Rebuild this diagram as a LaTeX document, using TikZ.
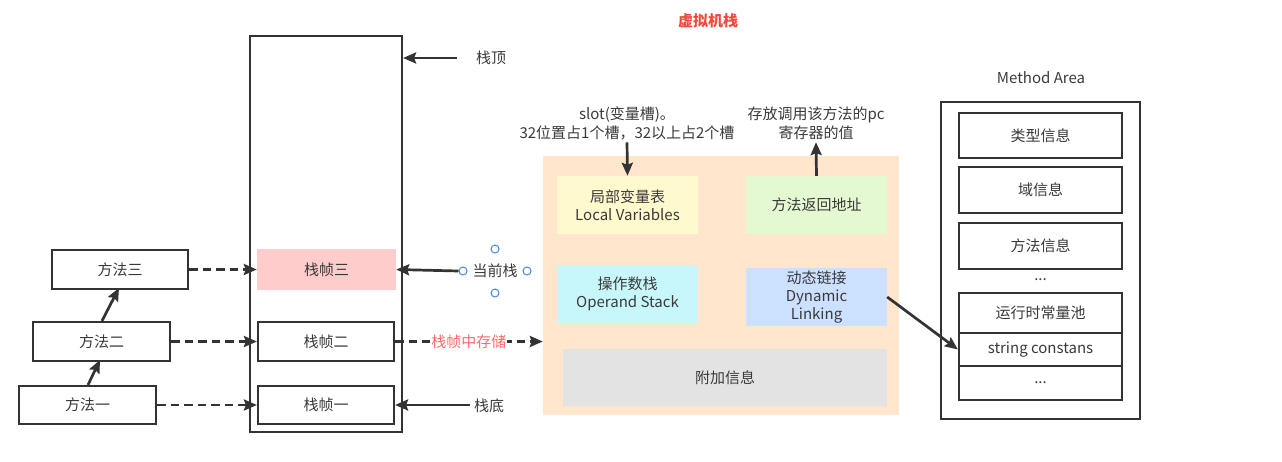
\documentclass[tikz,border=0pt]{standalone}
\usepackage{fontspec}
\setmainfont{Noto Sans CJK SC}
\usetikzlibrary{arrows.meta,calc}
\definecolor{ink}{HTML}{333333}
\definecolor{txt}{HTML}{3A3A3A}
\definecolor{peach}{HTML}{FFE6CC}
\definecolor{lvyel}{HTML}{FFFACD}
\definecolor{retgrn}{HTML}{E4F8D2}
\definecolor{opcyan}{HTML}{C8F7FB}
\definecolor{dlblue}{HTML}{CCE0FF}
\definecolor{addgray}{HTML}{E3E3E3}
\definecolor{pinkf}{HTML}{FFCCCC}
\definecolor{titlered}{HTML}{F04A3C}
\definecolor{lblred}{HTML}{FF6B6B}
\definecolor{selblue}{HTML}{4A86D8}
\tikzset{
  base/.style={inner sep=0pt, text=txt, font=\fontsize{15}{18}\selectfont, align=center},
  box/.style={base, draw=ink, line width=2.2pt, fill=white},
  fillbox/.style={base, draw=none},
  lbl/.style={base, inner sep=2pt},
  arr/.style={draw=ink, line width=2.7pt, -{Stealth[length=13pt,width=11pt,inset=2pt]}},
  darr/.style={arr, dash pattern=on 8.5pt off 5pt},
  selc/.style={circle, draw=selblue, line width=1pt, fill=white, minimum size=8pt, inner sep=0pt}
}
\begin{document}
\begin{tikzpicture}[x=1pt,y=-1pt]
\useasboundingbox (0,0) rectangle (1282,461);

% title
\node[base, text=titlered, font=\fontsize{15}{18}\selectfont\bfseries] (title) at (708,21) {虚拟机栈};

% stack
\node[box, minimum width=152pt, minimum height=396pt] (stack) at (326,234) {};
\node[fillbox, fill=pinkf, minimum width=139pt, minimum height=41pt] (f3) at (326.5,269.5) {栈帧三};
\node[box, minimum width=136pt, minimum height=39pt] (f2) at (326,341.5) {栈帧二};
\node[box, minimum width=136pt, minimum height=38pt] (f1) at (326,405) {栈帧一};

% methods
\node[box, minimum width=136pt, minimum height=39pt] (m3) at (120,269.5) {方法三};
\node[box, minimum width=137pt, minimum height=39pt] (m2) at (101.5,341.5) {方法二};
\node[box, minimum width=137pt, minimum height=38pt] (m1) at (87.5,405) {方法一};

\draw[arr] ($(m2.north)+(0.5,0)$) -- ($(m3.north)+(-1,39)$);
\draw[arr] ($(m1.north)+(0.5,0)$) -- ($(m2.north)+(-1.5,39)$);

\draw[darr] (m3.east) -- (f3.west);
\draw[darr] (m2.east) -- (f2.west);
\draw[darr] (m1.east) -- (f1.west);

% stack labels
\node[lbl] (ttop) at (491,58) {栈顶};
\coordinate (ctop) at (457,58);
\draw[arr] (ctop) -- (ctop -| stack.east);

\node[lbl] (tbot) at (489,406) {栈底};
\coordinate (cbot) at (470,405);
\draw[arr] (cbot) -- (f1.east);

\node[lbl] (cur) at (495,271) {当前栈};
\node[selc] (c1) at (463,271) {};
\node[selc] (c2) at (527,271) {};
\node[selc] (c3) at (495,249) {};
\node[selc] (c4) at (495,293) {};
\draw[arr] (c1.west) -- (f3.east);

% frame detail
\node[fillbox, fill=peach, minimum width=356pt, minimum height=259pt] (frame) at (721,285.5) {};
\node[fillbox, fill=lvyel, minimum width=141pt, minimum height=58pt] (lv) at (627.5,205) {局部变量表\\Local Variables};
\node[fillbox, fill=retgrn, minimum width=141pt, minimum height=58pt] (ret) at (816.5,205) {方法返回地址};
\node[fillbox, fill=opcyan, minimum width=141pt, minimum height=58pt] (os) at (627.5,294) {操作数栈\\Operand Stack};
\node[fillbox, fill=dlblue, minimum width=141pt, minimum height=58pt] (dl) at (816.5,297) {动态链接\\Dynamic\\Linking};
\node[fillbox, fill=addgray, minimum width=324pt, minimum height=57pt] (add) at (725,377.5) {附加信息};

\draw[darr] (f2.east) -- (frame.west |- f2.east)
  node[pos=0.5, base, fill=white, text=lblred, inner sep=1pt] (store) {栈帧中存储};

\node[lbl, font=\fontsize{15}{19}\selectfont] (slot) at (627,123.5) {slot(变量槽)。\\32位置占1个槽，32以上占2个槽};
\draw[arr] (slot.south) -- (lv.north);
\node[lbl, font=\fontsize{15}{19}\selectfont] (pc) at (816,123.5) {存放调用该方法的pc\\寄存器的值};
\draw[arr] (ret.north) -- (pc.south);

% method area
\node[base] (mal) at (1041,78) {Method Area};
\node[box, minimum width=199pt, minimum height=317pt] (ma) at (1040.5,260.5) {};
\node[box, minimum width=163pt, minimum height=45pt] (ty) at (1040.5,135.5) {类型信息};
\node[box, minimum width=163pt, minimum height=46pt] (yu) at (1040.5,190) {域信息};
\node[box, minimum width=163pt, minimum height=46pt] (ff) at (1040.5,246) {方法信息};
\node[base] (dots1) at (1040.5,280) {...};
\node[box, minimum width=163pt, minimum height=40pt] (rt) at (1040.5,313) {运行时常量池};
\node[box, minimum width=163pt, minimum height=33pt] (sc) at (1040.5,349.5) {string constans};
\node[box, minimum width=163pt, minimum height=34pt] (dd) at (1040.5,383) {...};

\draw[arr] (dl.east) -- (sc.west);
\end{tikzpicture}
\end{document}
